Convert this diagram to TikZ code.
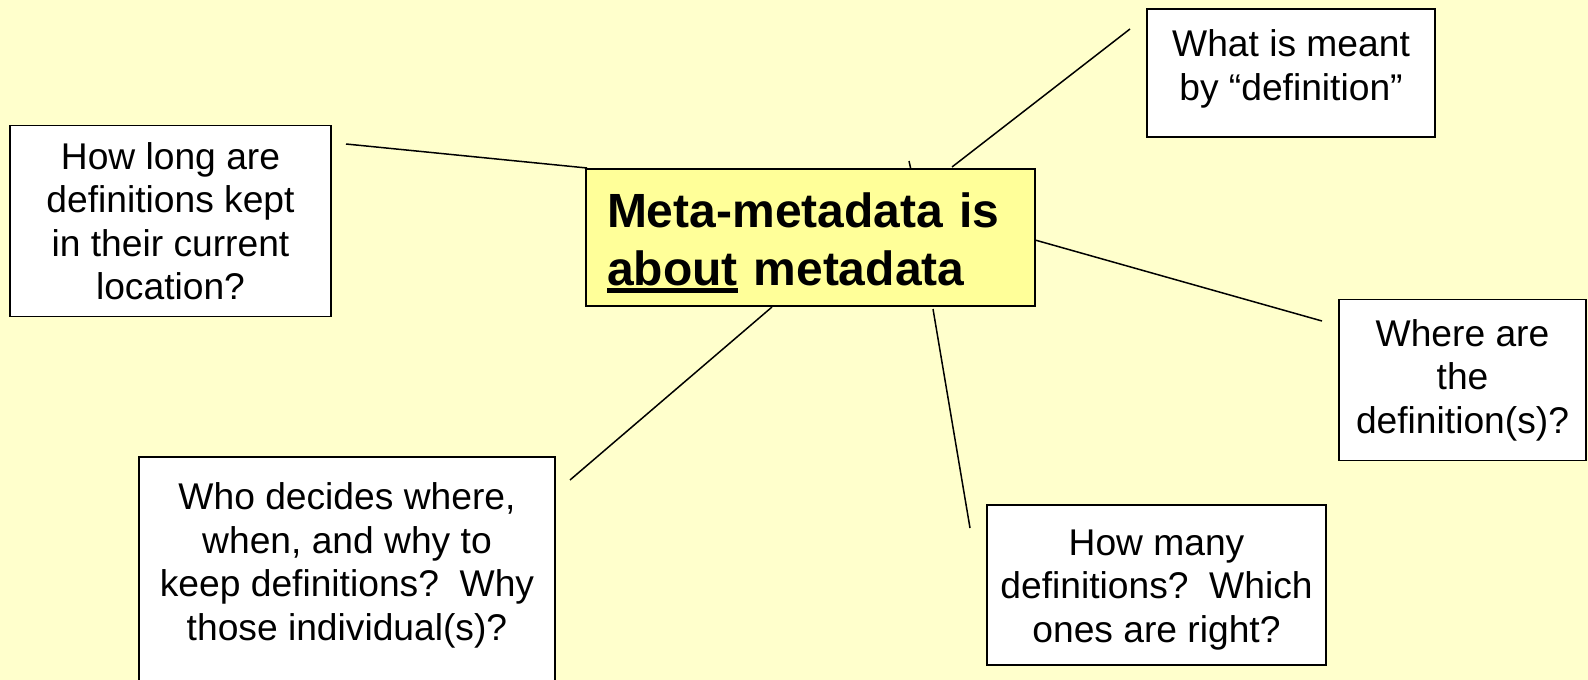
\documentclass[tikz,border=0pt]{standalone}
\usepackage{fontspec}
\setmainfont{Liberation Sans}
\newcommand\myul[1]{\leavevmode\vtop{\hbox{#1}\kern3pt\hrule height 4.5pt}}
\definecolor{bgyellow}{HTML}{FFFFCC}
\definecolor{hubyellow}{HTML}{FFFF99}
\begin{document}
\begin{tikzpicture}[x=1pt,y=-1pt,
  qbox/.style={draw=black,line width=1.6pt,fill=white,inner sep=0pt,align=center,
    font=\fontsize{37.2}{43.5}\selectfont},
  hubbox/.style={draw=black,line width=1.6pt,fill=hubyellow,inner sep=0pt,align=left,
    font=\fontsize{48}{58}\selectfont\bfseries},
  link/.style={draw=black,line width=1.5pt}]
\fill[bgyellow] (0,0) rectangle (1588,680);
\useasboundingbox (0,0) rectangle (1588,680);
% connector end points
\coordinate (l1a) at (346,144);  \coordinate (l1b) at (587,168);
\coordinate (l2a) at (1130,29);  \coordinate (l2b) at (952,167);
\coordinate (l3a) at (909,161);  \coordinate (l3b) at (911,170);
\coordinate (l4a) at (1035,240); \coordinate (l4b) at (1322,321);
\coordinate (l5a) at (772,307);  \coordinate (l5b) at (570,480);
\coordinate (l6a) at (933,309);  \coordinate (l6b) at (970,528);
\draw[link] (l1a) -- (l1b);
\draw[link] (l2a) -- (l2b);
\draw[link] (l3a) -- (l3b);
\draw[link] (l4a) -- (l4b);
\draw[link] (l5a) -- (l5b);
\draw[link] (l6a) -- (l6b);
% boxes
\node[qbox,minimum width=321pt,minimum height=191pt] (L) at (170.5,221)
  {How long are\\definitions kept\\in their current\\location?};
\node[qbox,minimum width=288pt,minimum height=128pt] (TR) at (1291,73)
  {What is meant\\by “definition”\rule[-16pt]{0pt}{1pt}};
\node[qbox,minimum width=247pt,minimum height=161pt] (R) at (1462.5,380)
  {Where are\\the\\definition(s)?};
\node[qbox,minimum width=416pt,minimum height=250pt] (BL) at (347,582)
  {\rule{0pt}{43pt}Who decides where,\\when, and why to\\keep definitions?\ \ Why\\those individual(s)?\\\strut};
\node[qbox,minimum width=339pt,minimum height=160pt] (BR) at (1156.5,585)
  {\rule{0pt}{35pt}How many\\definitions?\ \ Which\\ones are right?};
\node[hubbox,minimum width=449pt,minimum height=137pt,text width=407pt] (C) at (810.5,237.5)
  {\rule{0pt}{45pt}Meta-metadata is\\\myul{about} metadata};
\end{tikzpicture}
\end{document}
